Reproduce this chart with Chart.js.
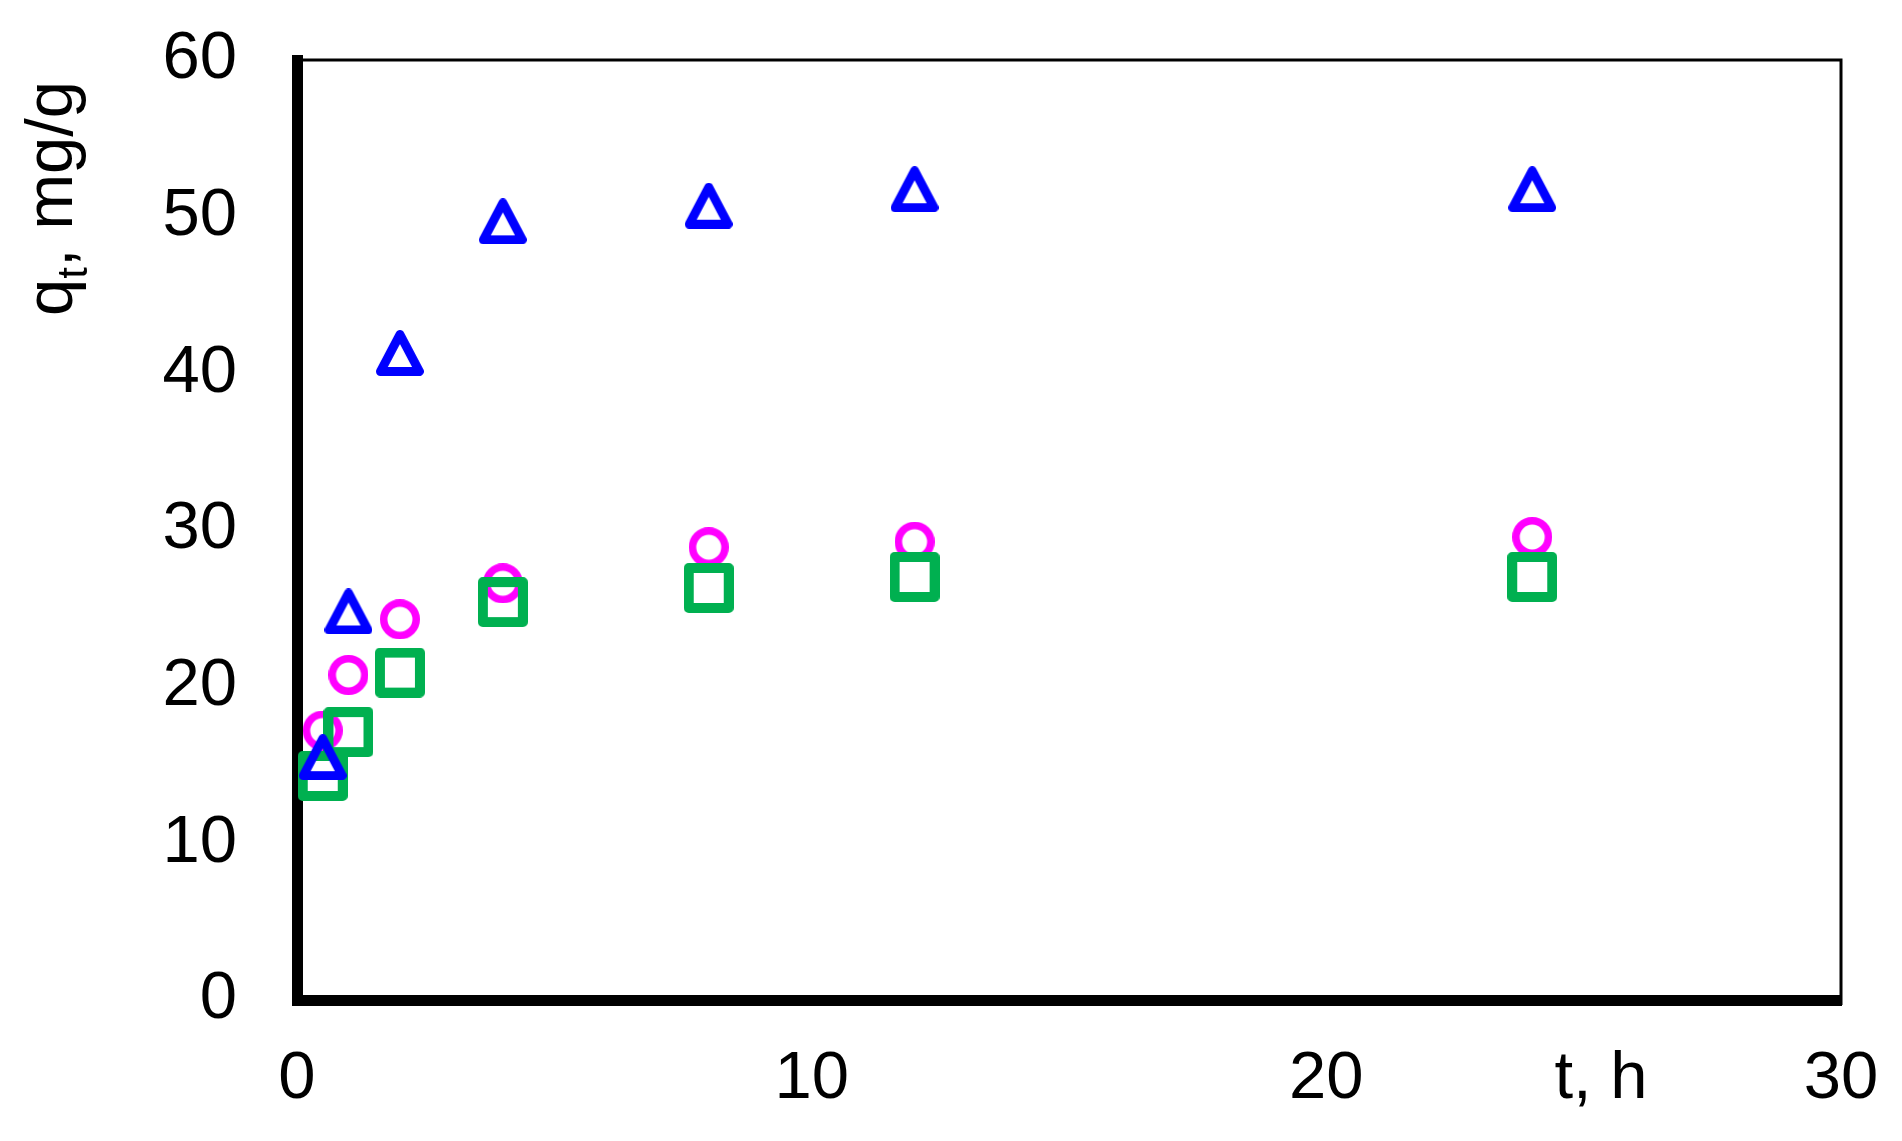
<!DOCTYPE html>
<html lang="en">
<head>
    <meta charset="UTF-8">
    <title>q_t vs t</title>
    <script src="https://cdn.jsdelivr.net/npm/chart.js"></script>
    <style>
        html, body { margin: 0; padding: 0; background: #fff; }
        #wrap { width: 1902px; height: 1141px; }
    </style>
</head>
<body>
    <div id="wrap">
        <canvas id="kinetics" width="1902" height="1141"></canvas>
    </div>

    <script>
        // time, h
        const tHours = [0.5, 1, 2, 4, 8, 12, 24];
        // q_t, mg/g for each sample
        const qTriangle = [15.5, 24.8, 41.3, 49.7, 50.7, 51.75, 51.75];
        const qSquare = [14.3, 17.1, 20.9, 25.4, 26.3, 27.0, 27.0];
        const qCircle = [17.2, 20.75, 24.3, 26.6, 28.9, 29.25, 29.55];
        // axis ranges / ticks
        const xTicks = [0, 10, 20, 30];
        const yTicks = [0, 10, 20, 30, 40, 50, 60];

        const FONT = '"Liberation Sans", Arial, Helvetica, sans-serif';

        // hollow markers drawn the way the original plot shows them
        function makeMarker(kind, color) {
            const c = document.createElement('canvas');
            const ctx = c.getContext('2d');
            if (kind === 'triangle') {
                c.width = 48; c.height = 46;
                ctx.lineWidth = 9;
                ctx.lineJoin = 'round';
                ctx.strokeStyle = color;
                ctx.beginPath();
                ctx.moveTo(24, 4.5);
                ctx.lineTo(43.5, 41.5);
                ctx.lineTo(4.5, 41.5);
                ctx.closePath();
                ctx.stroke();
            } else if (kind === 'square') {
                c.width = 50; c.height = 50;
                ctx.lineWidth = 10;
                ctx.lineJoin = 'round';
                ctx.strokeStyle = color;
                ctx.strokeRect(5, 5, 40, 40);
            } else {
                c.width = 40; c.height = 40;
                ctx.lineWidth = 7.5;
                ctx.strokeStyle = color;
                ctx.beginPath();
                ctx.arc(20, 20, 16.25, 0, Math.PI * 2);
                ctx.stroke();
            }
            return c;
        }

        function toPoints(ys) {
            return tHours.map((t, i) => ({ x: t, y: ys[i] }));
        }

        // thin plot-area frame (top and right) plus the axis titles
        const frameAndTitles = {
            id: 'frameAndTitles',
            beforeDatasetsDraw(chart) {
                const { ctx, chartArea } = chart;
                ctx.save();
                ctx.strokeStyle = '#000';
                ctx.lineWidth = 3;
                ctx.beginPath();
                ctx.moveTo(chartArea.left, chartArea.top);
                ctx.lineTo(chartArea.right, chartArea.top);
                ctx.lineTo(chartArea.right, chartArea.bottom + 5);
                ctx.stroke();
                ctx.restore();
            },
            afterDraw(chart) {
                const { ctx, chartArea } = chart;
                ctx.save();
                ctx.fillStyle = '#000';

                // x title sits on the tick label row
                ctx.font = '67px ' + FONT;
                ctx.textAlign = 'center';
                ctx.textBaseline = 'middle';
                ctx.fillText('t, h', 1601, chartArea.bottom + 39 + 67 * 1.2 / 2);

                // y title, rotated, with subscript t
                ctx.translate(72, 316);
                ctx.rotate(-Math.PI / 2);
                ctx.textAlign = 'left';
                ctx.textBaseline = 'alphabetic';
                ctx.font = '67px ' + FONT;
                ctx.fillText('q', 0, 0);
                let x = ctx.measureText('q').width;
                ctx.font = '42px ' + FONT;
                ctx.fillText('t', x, 15);
                x += ctx.measureText('t').width;
                ctx.font = '67px ' + FONT;
                ctx.fillText(', mg/g', x, 0);
                ctx.restore();
            }
        };

        const tickFont = { family: FONT, size: 67 };

        new Chart(document.getElementById('kinetics'), {
            type: 'scatter',
            data: {
                datasets: [
                    {
                        label: 'triangle',
                        data: toPoints(qTriangle),
                        pointStyle: makeMarker('triangle', '#0000FF'),
                        pointRadius: 25,
                        borderColor: '#0000FF',
                        clip: false
                    },
                    {
                        label: 'square',
                        data: toPoints(qSquare),
                        pointStyle: makeMarker('square', '#00B050'),
                        pointRadius: 25,
                        borderColor: '#00B050',
                        clip: false
                    },
                    {
                        label: 'circle',
                        data: toPoints(qCircle),
                        pointStyle: makeMarker('circle', '#FF00FF'),
                        pointRadius: 25,
                        borderColor: '#FF00FF',
                        clip: false
                    }
                ]
            },
            options: {
                responsive: false,
                animation: false,
                events: [],
                layout: { padding: { top: 60, right: 61, left: 0, bottom: 0 } },
                plugins: {
                    legend: { display: false },
                    tooltip: { enabled: false }
                },
                scales: {
                    x: {
                        type: 'linear',
                        min: xTicks[0],
                        max: xTicks[xTicks.length - 1],
                        afterBuildTicks: (scale) => { scale.ticks = xTicks.map(v => ({ value: v })); },
                        // tick marks are hidden; tickLength only spaces the labels
                        ticks: { font: tickFont, color: '#000', padding: 0, maxRotation: 0 },
                        grid: { display: false, drawTicks: true, tickLength: 39 },
                        border: { display: true, color: '#000', width: 11 },
                        afterFit: (scale) => { scale.height = 141; }
                    },
                    y: {
                        type: 'linear',
                        min: yTicks[0],
                        max: yTicks[yTicks.length - 1],
                        afterBuildTicks: (scale) => { scale.ticks = yTicks.map(v => ({ value: v })); },
                        ticks: { font: tickFont, color: '#000', padding: 0 },
                        grid: { display: false, drawTicks: true, tickLength: 60 },
                        border: { display: true, color: '#000', width: 11 },
                        afterFit: (scale) => { scale.width = 297; }
                    }
                }
            },
            plugins: [frameAndTitles]
        });
    </script>
</body>
</html>
